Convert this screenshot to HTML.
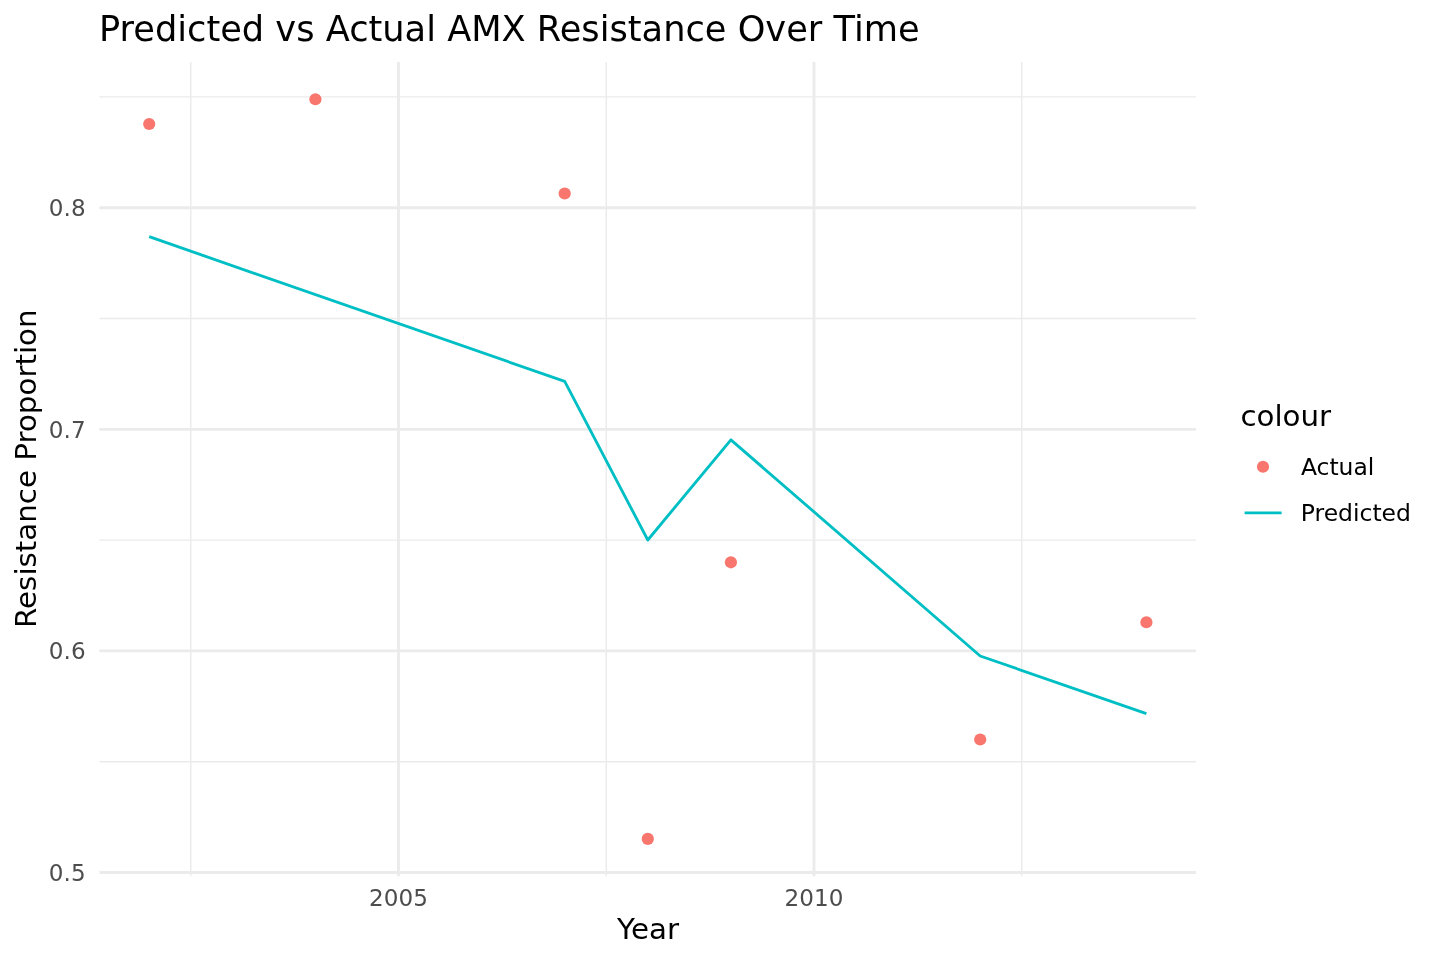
<!DOCTYPE html>
<html lang="en"><head><meta charset="utf-8"><title>Predicted vs Actual AMX Resistance Over Time</title>
<style>html,body{margin:0;padding:0;background:#fff}body{width:1440px;height:960px;overflow:hidden}svg{display:block}</style></head>
<body>
<svg width="1440" height="960" viewBox="0 0 1440 960" font-family="'DejaVu Sans', 'Liberation Sans', sans-serif">
<rect width="1440" height="960" fill="#fff"/>
<g stroke="#EBEBEB" stroke-width="1.42" fill="none">
<line x1="99.4" x2="1196.0" y1="761.70" y2="761.70"/>
<line x1="99.4" x2="1196.0" y1="540.10" y2="540.10"/>
<line x1="99.4" x2="1196.0" y1="318.50" y2="318.50"/>
<line x1="99.4" x2="1196.0" y1="96.90" y2="96.90"/>
<line x1="190.75" x2="190.75" y1="62.1" y2="876.2"/>
<line x1="606.25" x2="606.25" y1="62.1" y2="876.2"/>
<line x1="1021.75" x2="1021.75" y1="62.1" y2="876.2"/>
</g>
<g stroke="#EBEBEB" stroke-width="2.85" fill="none">
<line x1="99.4" x2="1196.0" y1="872.50" y2="872.50"/>
<line x1="99.4" x2="1196.0" y1="650.90" y2="650.90"/>
<line x1="99.4" x2="1196.0" y1="429.30" y2="429.30"/>
<line x1="99.4" x2="1196.0" y1="207.70" y2="207.70"/>
<line x1="398.50" x2="398.50" y1="62.1" y2="876.2"/>
<line x1="814.00" x2="814.00" y1="62.1" y2="876.2"/>
</g>
<g fill="#F8766D">
<circle cx="149.20" cy="124.0" r="6.1"/>
<circle cx="315.40" cy="99.25" r="6.1"/>
<circle cx="564.70" cy="193.5" r="6.1"/>
<circle cx="647.80" cy="838.9" r="6.1"/>
<circle cx="730.90" cy="562.3" r="6.1"/>
<circle cx="980.20" cy="739.5" r="6.1"/>
<circle cx="1146.40" cy="622.25" r="6.1"/>
</g>
<polyline points="149.20,236.7 564.70,381.4 647.80,540.0 730.90,439.8 980.20,656.0 1146.40,713.6" fill="none" stroke="#00BFC4" stroke-width="2.85" stroke-linejoin="round" stroke-linecap="butt"/>
<g fill="#4D4D4D" font-size="23.1px">
<text x="85.6" y="880.80" text-anchor="end">0.5</text>
<text x="85.6" y="659.20" text-anchor="end">0.6</text>
<text x="85.6" y="437.60" text-anchor="end">0.7</text>
<text x="85.6" y="216.00" text-anchor="end">0.8</text>
<text x="398.50" y="906.1" text-anchor="middle">2005</text>
<text x="814.00" y="906.1" text-anchor="middle">2010</text>
</g>
<g fill="#000">
<text x="99" y="40.7" font-size="35.2px">Predicted vs Actual AMX Resistance Over Time</text>
<text transform="translate(648,938.9) scale(1,0.962)" font-size="29.33px" text-anchor="middle">Year</text>
<text transform="translate(36.3,468.7) rotate(-90) scale(1,0.962)" font-size="29.33px" text-anchor="middle">Resistance Proportion</text>
<text transform="translate(1240.4,426) scale(1,0.96)" font-size="29.33px">colour</text>
<text transform="translate(1300.9,474.6) scale(1,0.95)" font-size="23.47px">Actual</text>
<text transform="translate(1300.8,521.2) scale(1,0.95)" font-size="23.47px">Predicted</text>
</g>
<circle cx="1263" cy="466.75" r="6.1" fill="#F8766D"/>
<line x1="1244.6" x2="1281.6" y1="512.9" y2="512.9" stroke="#00BFC4" stroke-width="2.85"/>
</svg>
</body></html>
